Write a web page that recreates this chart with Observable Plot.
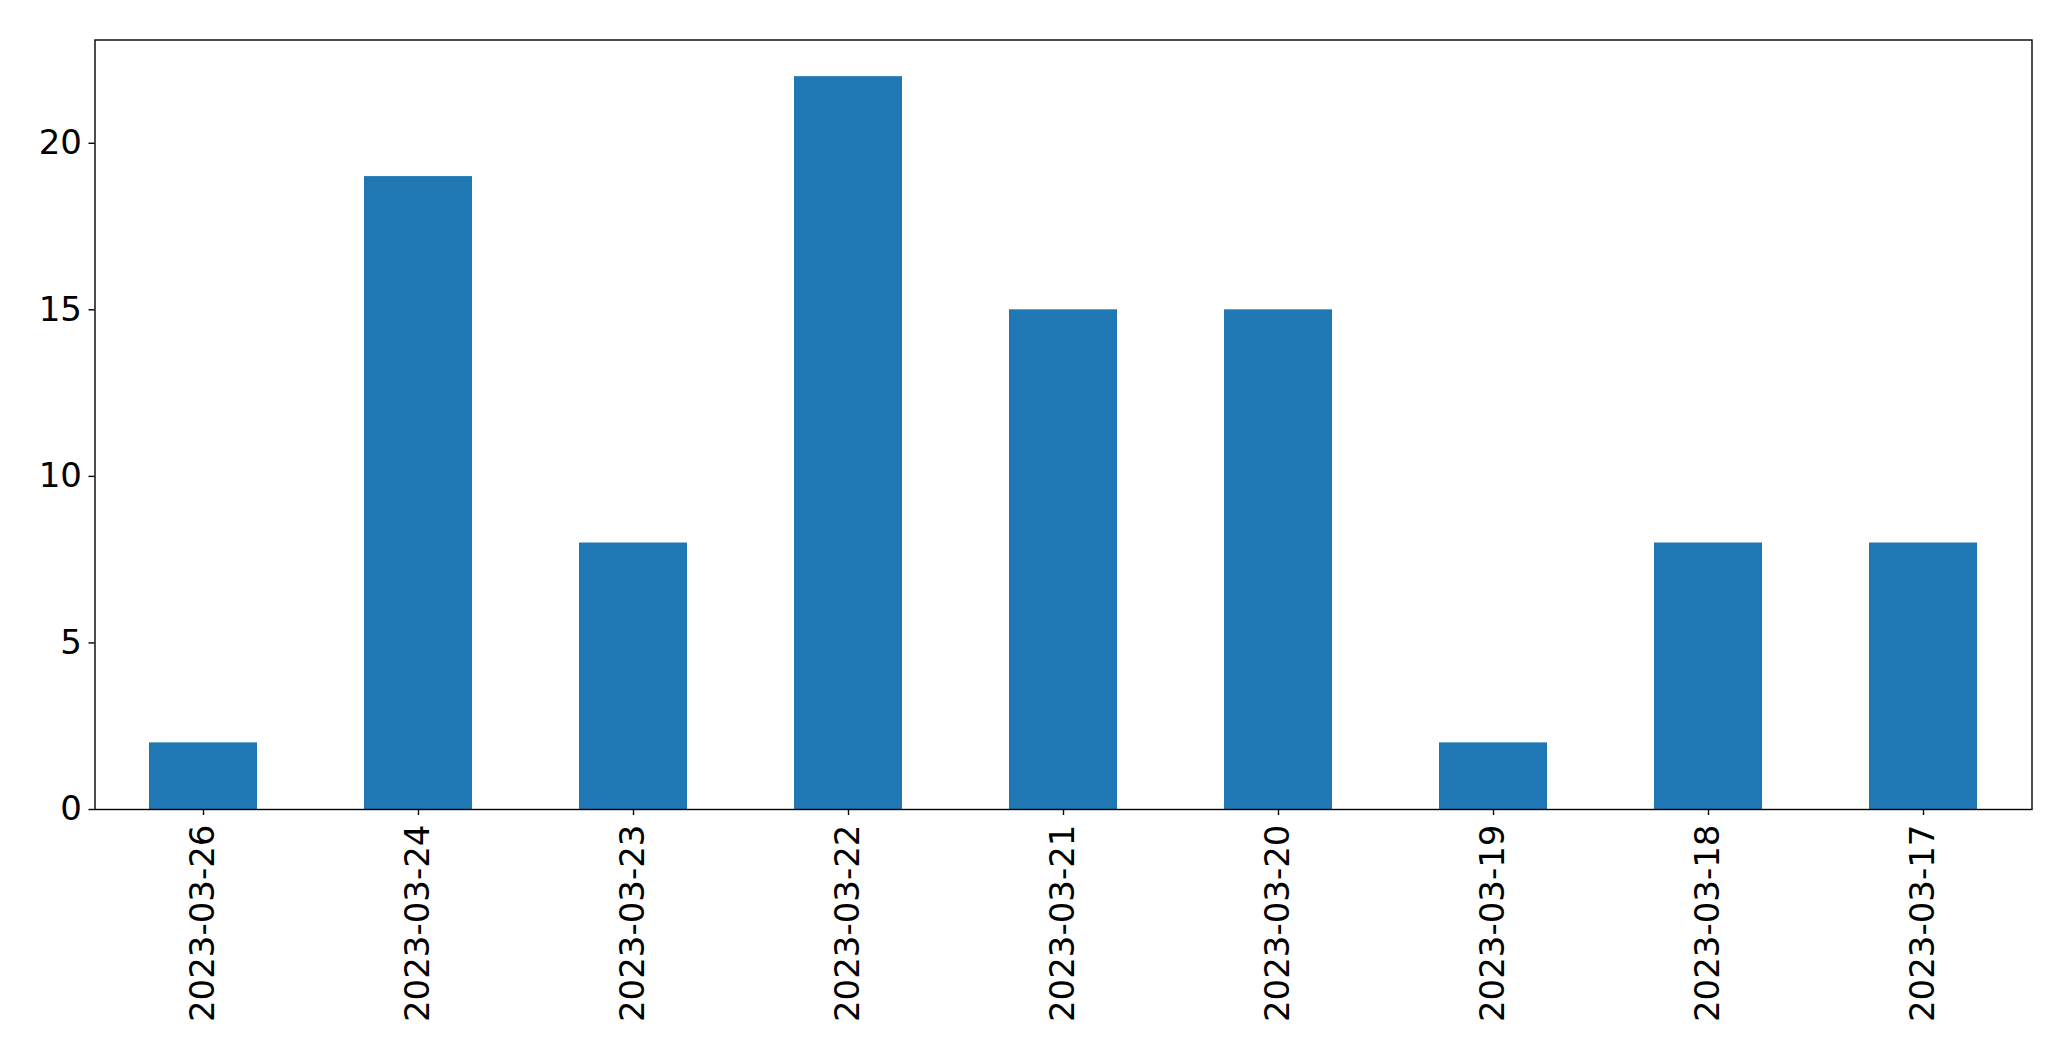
<!DOCTYPE html>
<html>
<head>
<meta charset="utf-8">
<script src="https://cdn.jsdelivr.net/npm/d3@7"></script>
<script src="https://cdn.jsdelivr.net/npm/@observablehq/plot@0.6"></script>
<style>
  html, body { margin: 0; padding: 0; background: #fff; }
  #chart svg { display: block; }
</style>
</head>
<body>
<div id="chart"></div>
<script>
const dates = ["2023-03-26","2023-03-24","2023-03-23","2023-03-22","2023-03-21","2023-03-20","2023-03-19","2023-03-18","2023-03-17"];
const counts = [2, 19, 8, 22, 15, 15, 2, 8, 8];
const yTicks = [0, 5, 10, 15, 20];

const data = dates.map((d, i) => ({date: d, count: counts[i]}));

const chart = Plot.plot({
  width: 2071,
  height: 1061,
  marginLeft: 94.5,
  marginRight: 39.5,
  marginTop: 39.5,
  marginBottom: 252,
  style: {fontFamily: "DejaVu Sans", background: "#fff", color: "#000"},
  x: {domain: dates, paddingInner: 0.5, paddingOuter: 0.25, label: null},
  y: {domain: [0, 23.1], label: null},
  marks: [
    Plot.barY(data, {x: "date", y: "count", fill: "#1f77b4"}),
    Plot.frame({stroke: "#000", strokeWidth: 1.4}),
    Plot.axisY({ticks: yTicks, fontSize: 34, tickSize: 6, tickPadding: 7, strokeWidth: 1.4, label: null}),
    Plot.axisX({tickRotate: -90, fontSize: 34, tickSize: 6, tickPadding: 9, strokeWidth: 1.4, label: null})
  ]
});
document.getElementById("chart").appendChild(chart);
</script>
</body>
</html>
